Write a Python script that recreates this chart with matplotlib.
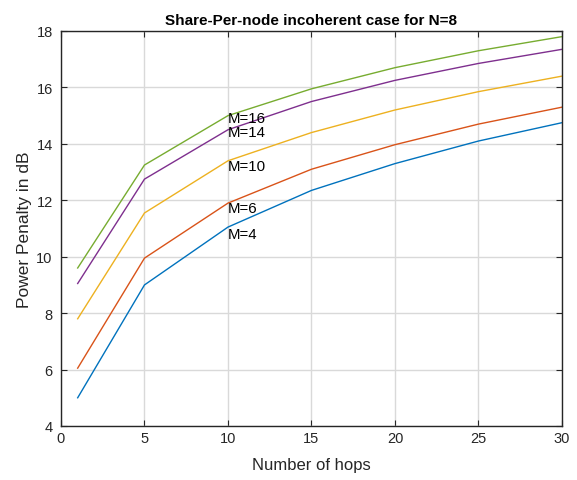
import matplotlib
matplotlib.use("Agg")
import matplotlib.pyplot as plt

plt.rcParams['font.family'] = ['Liberation Sans', 'DejaVu Sans']

# data
hops = [1, 5, 10, 15, 20, 25, 30]
m_values = [4, 6, 10, 14, 16]
penalty_m4 = [5.0, 9.0, 11.05, 12.35, 13.3, 14.1, 14.75]
penalty_m6 = [6.05, 9.95, 11.9, 13.1, 13.97, 14.7, 15.3]
penalty_m10 = [7.8, 11.55, 13.4, 14.4, 15.2, 15.85, 16.4]
penalty_m14 = [9.05, 12.75, 14.5, 15.5, 16.25, 16.85, 17.35]
penalty_m16 = [9.6, 13.25, 15.0, 15.95, 16.7, 17.3, 17.8]
label_x = 10
label_y = [10.8, 11.73, 13.2, 14.43, 14.92]

series = [penalty_m4, penalty_m6, penalty_m10, penalty_m14, penalty_m16]
colors = ['#0072BD', '#D95319', '#EDB120', '#7E2F8E', '#77AC30']

fig = plt.figure(figsize=(5.77, 4.81), dpi=100)
ax = fig.add_axes([0.1057, 0.1123, 0.8683, 0.8212])

for vals, c in zip(series, colors):
    ax.plot(hops, vals, color=c, linewidth=1.0)

for m, y in zip(m_values, label_y):
    ax.text(label_x, y, f"M={m}", fontsize=10.8, va='center', ha='left')

ax.set_xlim(0, 30)
ax.set_ylim(4, 18)
ax.set_xticks(range(0, 31, 5))
ax.set_yticks(range(4, 19, 2))
ax.grid(True, color='#d9d9d9', linewidth=1.0)
ax.set_axisbelow(True)
ax.tick_params(direction='in', top=True, right=True, labelsize=10.5, length=4,
               color='#262626', labelcolor='#262626')
ax.tick_params(axis='y', pad=6)
for s in ax.spines.values():
    s.set_color('#262626')
    s.set_linewidth(1.0)

ax.set_xlabel("Number of hops", fontsize=12, color='#262626', labelpad=9)
ax.set_ylabel("Power Penalty in dB", fontsize=12.5, color='#262626', labelpad=3)
ax.set_title("Share-Per-node incoherent case for N=8", fontsize=11, fontweight='bold', pad=5)

fig.savefig("out.png", dpi=100)
